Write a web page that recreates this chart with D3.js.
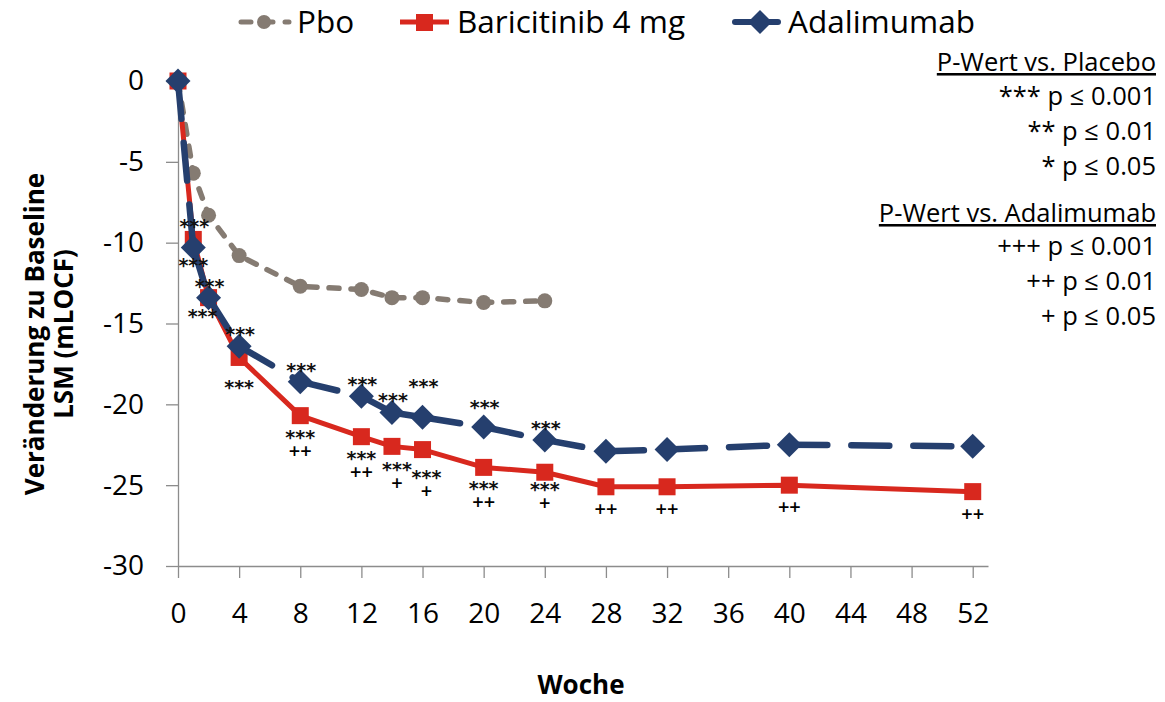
<!DOCTYPE html>
<html>
<head>
<meta charset="utf-8">
<script src="https://cdn.jsdelivr.net/npm/d3@7"></script>
<style>
  body { margin: 0; background: #fff; }
  svg { font-family: "Open Sans", sans-serif; }
</style>
</head>
<body>
<div id="container"></div>
<script>
let width = 1165
let height = 702

// data
const pboWeeks = [0, 1, 2, 4, 8, 12, 14, 16, 20, 24]
const pboValues = [0, -5.7, -8.3, -10.8, -12.7, -12.9, -13.4, -13.4, -13.7, -13.6]

const bariWeeks = [0, 1, 2, 4, 8, 12, 14, 16, 20, 24, 28, 32, 40, 52]
const bariValues = [0, -9.8, -13.4, -17.1, -20.7, -22.0, -22.6, -22.8, -23.9, -24.2, -25.1, -25.1, -25.0, -25.4]

const adaWeeks = [0, 1, 2, 4, 8, 12, 14, 16, 20, 24, 28, 32, 40, 52]
const adaValues = [0, -10.3, -13.4, -16.4, -18.6, -19.5, -20.5, -20.8, -21.4, -22.2, -22.9, -22.8, -22.5, -22.6]

// significance vs placebo (above Ada / below Bari) and vs Ada (under Bari)
const adaSig = ["", "***", "***", "***", "***", "***", "***", "***", "***", "***", "", "", "", ""]
const bariSig = ["", "***", "***", "***", "***", "***", "***", "***", "***", "***", "", "", "", ""]
const bariVsAda = ["", "", "", "", "++", "++", "+", "+", "++", "+", "++", "++", "++", "++"]

const xTicks = [0, 4, 8, 12, 16, 20, 24, 28, 32, 36, 40, 44, 48, 52]
const yTicks = [0, -5, -10, -15, -20, -25, -30]

const legendNames = ["Pbo", "Baricitinib 4 mg", "Adalimumab"]
const noteLines = [
    { t: "P-Wert vs. Placebo", u: true },
    { t: "*** p \u2264 0.001" },
    { t: "** p \u2264 0.01" },
    { t: "* p \u2264 0.05" },
    { t: "P-Wert vs. Adalimumab", u: true },
    { t: "+++ p \u2264 0.001" },
    { t: "++ p \u2264 0.01" },
    { t: "+ p \u2264 0.05" }
]

const gray = "#857b72"
const red = "#d8281e"
const navy = "#253f6e"

// layout nudges for the crowded star labels (pixels)
const adaNudge = { 1: -25, 16: -34, 20: -23 }
const bariNudge = { 1: 23, 2: 15, 4: 27, 14: 20, 16: 24, 24: 14 }
const bariDx = { 2: -6, 14: 5, 16: 4 }

let x = d3.scaleLinear().domain([0, 53]).range([178, 988])
let y = d3.scaleLinear().domain([-30, 0]).range([566, 81])

let svg = d3.select("#container")
    .append("svg")
    .attr("width", width)
    .attr("height", height)

// axes
let xAxis = g => g
    .attr("transform", `translate(0,${y(-30)})`)
    .call(d3.axisBottom(x).tickValues(xTicks).tickFormat(d => String(d))
        .tickSizeInner(12).tickSizeOuter(0).tickPadding(25))
    .call(g => g.select(".domain").attr("stroke", "#8c8c8c").attr("stroke-width", 1.3))
    .call(g => g.selectAll(".tick line").attr("stroke", "#8c8c8c").attr("stroke-width", 1.3))
    .call(g => g.selectAll(".tick text").attr("font-size", 28).attr("fill", "#000").attr("font-family", "Open Sans"))

let yAxis = g => g
    .attr("transform", `translate(${x(0)},0)`)
    .call(d3.axisLeft(y).tickValues(yTicks).tickFormat(d => String(d))
        .tickSizeInner(12).tickSizeOuter(0).tickPadding(22))
    .call(g => g.select(".domain").attr("stroke", "#8c8c8c").attr("stroke-width", 1.3))
    .call(g => g.selectAll(".tick line").attr("stroke", "#8c8c8c").attr("stroke-width", 1.3))
    .call(g => g.selectAll(".tick text").attr("font-size", 28).attr("fill", "#000").attr("font-family", "Open Sans"))

svg.append("g").call(xAxis)
svg.append("g").call(yAxis)

// axis titles
svg.append("text")
    .attr("x", 581).attr("y", 694)
    .attr("text-anchor", "middle")
    .attr("font-size", 26).attr("font-weight", "bold")
    .text("Woche")

let yTitle = svg.append("text")
    .attr("transform", "translate(44,334) rotate(-90)")
    .attr("text-anchor", "middle")
    .attr("font-size", 26).attr("font-weight", "bold")
yTitle.append("tspan").attr("x", 0).attr("y", 0).text("Veränderung zu Baseline")
yTitle.append("tspan").attr("x", 0).attr("y", 29).text("LSM (mLOCF)")

const zip = (w, v) => w.map((d, i) => ({ week: d, value: v[i], i }))
const pbo = zip(pboWeeks, pboValues)
const bari = zip(bariWeeks, bariValues)
const ada = zip(adaWeeks, adaValues)

let line = d3.line().x(d => x(d.week)).y(d => y(d.value))

// Pbo dashed
svg.append("path")
    .datum(pbo)
    .attr("fill", "none")
    .attr("stroke", gray)
    .attr("stroke-width", 5.5)
    .attr("stroke-dasharray", "10,12")
    .attr("stroke-linecap", "round")
    .attr("d", line)

svg.selectAll(".pbo-dot")
    .data(pbo.slice(1))
    .join("circle")
    .attr("cx", d => x(d.week))
    .attr("cy", d => y(d.value))
    .attr("r", 7.5)
    .attr("fill", gray)

// Baricitinib solid
svg.append("path")
    .datum(bari)
    .attr("fill", "none")
    .attr("stroke", red)
    .attr("stroke-width", 5)
    .attr("stroke-linejoin", "round")
    .attr("d", line)

svg.selectAll(".bari-sq")
    .data(bari)
    .join("rect")
    .attr("x", d => x(d.week) - 8.5)
    .attr("y", d => y(d.value) - 8.5)
    .attr("width", 17)
    .attr("height", 17)
    .attr("fill", red)

// Adalimumab long dash, pattern restarts at each segment
const adaSegs = d3.pairs(ada)
svg.selectAll(".ada-seg")
    .data(adaSegs)
    .join("path")
    .attr("fill", "none")
    .attr("stroke", navy)
    .attr("stroke-width", 6.5)
    .attr("stroke-linecap", "round")
    .attr("stroke-dasharray", "38,24")
    .attr("d", line)

svg.selectAll(".ada-dia")
    .data(ada)
    .join("path")
    .attr("transform", d => `translate(${x(d.week)},${y(d.value)})`)
    .attr("d", "M0,-12.5L12.5,0L0,12.5L-12.5,0Z")
    .attr("fill", navy)

// significance labels
let sig = svg.append("g")
    .attr("text-anchor", "middle")
    .attr("font-family", "DejaVu Sans")
    .attr("font-weight", "bold")
    .attr("fill", "#111")

sig.selectAll(".sa")
    .data(ada.filter(d => adaSig[d.i]))
    .join("text")
    .attr("x", d => x(d.week) + 1)
    .attr("y", d => y(d.value) + (adaNudge[d.week] || -15) + 10)
    .attr("font-size", 19)
    .text(d => adaSig[d.i])

sig.selectAll(".sb")
    .data(bari.filter(d => bariSig[d.i]))
    .join("text")
    .attr("x", d => x(d.week) + (bariDx[d.week] || 0))
    .attr("y", d => y(d.value) + (bariNudge[d.week] || 18) + 10)
    .attr("font-size", 19)
    .text(d => bariSig[d.i])

sig.selectAll(".sp")
    .data(bari.filter(d => bariVsAda[d.i]))
    .join("text")
    .attr("x", d => x(d.week) + (bariDx[d.week] || 0))
    .attr("y", d => y(d.value) + (bariSig[d.i] ? (bariNudge[d.week] || 18) + 16 : 21) + 8)
    .attr("font-size", 20)
    .attr("font-weight", 600)
    .attr("font-family", "Open Sans")
    .attr("fill", "#000")
    .text(d => bariVsAda[d.i])

// legend
let legend = svg.append("g").attr("font-size", 31.5)
let lg = [
    { name: legendNames[0], x0: 241, color: gray },
    { name: legendNames[1], x0: 400, color: red },
    { name: legendNames[2], x0: 735, color: navy }
]
lg.forEach((d, i) => {
    let g = legend.append("g").attr("transform", `translate(${d.x0},22)`)
    if (i === 0) {
        g.append("line").attr("x1", 0).attr("x2", 48).attr("stroke", gray)
            .attr("stroke-width", 5).attr("stroke-dasharray", "10,12").attr("stroke-linecap", "round")
        g.append("circle").attr("cx", 23).attr("r", 7).attr("fill", gray)
    } else if (i === 1) {
        g.append("line").attr("x1", 0).attr("x2", 49).attr("stroke", red).attr("stroke-width", 5)
        g.append("rect").attr("x", 16).attr("y", -8).attr("width", 17).attr("height", 17).attr("fill", red)
    } else {
        g.append("line").attr("x1", 0).attr("x2", 43).attr("stroke", navy).attr("stroke-width", 6).attr("stroke-linecap", "round")
        g.append("path").attr("transform", "translate(25,0)").attr("d", "M0,-12L12,0L0,12L-12,0Z").attr("fill", navy)
    }
    g.append("text")
        .attr("x", i === 0 ? 56 : i === 1 ? 57 : 53)
        .attr("y", 11)
        .text(d.name)
})

// p-value notes
let notes = svg.append("g")
    .attr("text-anchor", "end")
    .attr("font-size", 25.5)
const noteY = [71, 105, 140, 175, 222, 255, 290, 325]
noteLines.forEach((d, i) => {
    let t = notes.append("text")
        .attr("x", 1156)
        .attr("y", noteY[i])
        .text(d.t)
    if (d.u) t.attr("text-decoration", "underline")
})
</script>
</body>
</html>
